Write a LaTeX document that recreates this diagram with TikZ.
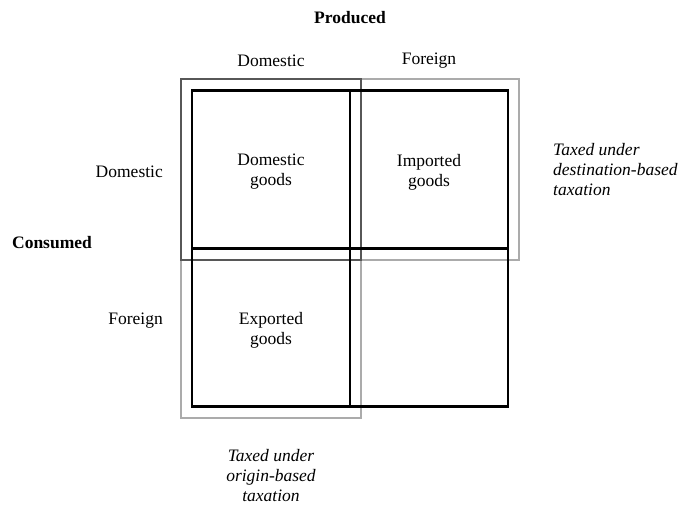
\documentclass[tikz,border=0pt]{standalone}
\usepackage{fontspec}
\setmainfont{Liberation Serif}
\usetikzlibrary{fit,backgrounds}

\begin{document}
\begin{tikzpicture}[
    x=1pt, y=-1pt,
    every node/.style={font=\fontsize{17.5}{20}\selectfont},
    cell/.style={
      draw=black,
      line width=2.6pt,
      minimum size=158pt,
      inner sep=0pt
    },
    celltext/.style={
      label={[align=center, yshift=-2.5pt]center:#1}
    },
    taxbox/.style={
      draw=black!33,
      line width=2.2pt,
      inner sep=10pt
    },
    overlap/.style={
      taxbox,
      draw=black!66
    },
    heading/.style={font=\fontsize{17.5}{20}\selectfont\bfseries},
    note/.style={font=\fontsize{17.5}{20}\selectfont\itshape, inner sep=0pt}
  ]
    \useasboundingbox (0,0) rectangle (680,506);

    % the four cells
    \node[cell, celltext={Domestic\\goods}] (domgoods) at (271,169.5) {};
    \node[cell, celltext={Imported\\goods}] (impgoods) at (429,169.5) {};
    \node[cell, celltext={Exported\\goods}] (expgoods) at (271,327.5) {};
    \node[cell] (forgoods) at (429,327.5) {};

    % tax bases
    \begin{scope}[on background layer]
      \node[taxbox, fit=(domgoods)(impgoods)] (destbox) {};
      \node[taxbox, fit=(domgoods)(expgoods)] (origbox) {};
      \node[overlap, fit=(domgoods)] (bothbox) {};
    \end{scope}

    % headings
    \node[heading] (produced) at (350,18) {Produced};
    \node (coldom) at (271,61) {Domestic};
    \node (colfor) at (429,61) {Foreign};
    \node[heading] (consumed) at (52,243) {Consumed};
    \node[anchor=east, inner sep=0pt] (rowdom) at (163,172) {Domestic};
    \node[anchor=east, inner sep=0pt] (rowfor) at (163,321) {Foreign};

    % notes
    \node[note, anchor=west, align=left] (destnote) at (553,170) {Taxed under\\destination-based\\taxation};
    \node[note, align=center] (orignote) at (271,476) {Taxed under\\origin-based\\taxation};
  \end{tikzpicture}
\end{document}
